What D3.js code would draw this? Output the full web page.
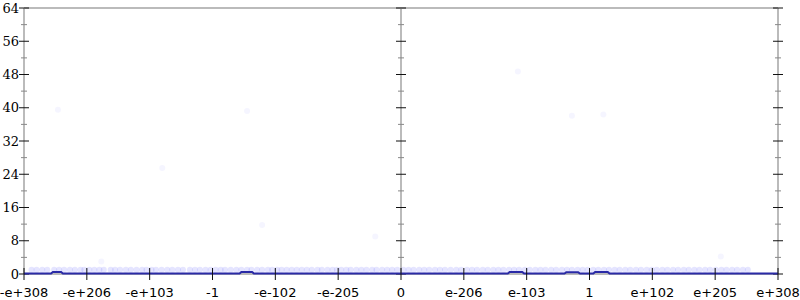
<!DOCTYPE html>
<html>
<head>
<meta charset="utf-8">
<script src="https://cdn.jsdelivr.net/npm/d3@7"></script>
<style>
  body { margin: 0; background: #fff; }
  svg { display: block; }
</style>
</head>
<body>
<div id="chart"></div>
<script>
// x positions are in "tick units": the axis runs over the bit pattern of doubles, -6..6
var tickPos = [-6, -5, -4, -3, -2, -1, 0, 1, 2, 3, 4, 5, 6];
var tickLabels = ["-e+308", "-e+206", "-e+103", "-1", "-e-102", "-e-205", "0",
                  "e-206", "e-103", "1", "e+102", "e+205", "e+308"];
var yMajor = [0, 8, 16, 24, 32, 40, 48, 56, 64];
var yMinor = [4, 12, 20, 28, 36, 44, 52, 60];

// samples with error of 1
var onesX = [
  -5.88, -5.80, -5.71, -5.63, -5.52, -5.44, -5.36, -5.27, -5.19, -5.10, -5.04,
  -4.96, -4.88, -4.80, -4.73, -4.62, -4.55, -4.47, -4.38, -4.30, -4.21, -4.12, -4.05,
  -3.97, -3.90, -3.81, -3.72, -3.64, -3.55, -3.47, -3.36, -3.28, -3.20, -3.11, -3.03,
  -2.95, -2.87, -2.80, -2.71, -2.62, -2.54, -2.45, -2.38, -2.29, -2.21, -2.12, -2.05,
  -1.97, -1.90, -1.82, -1.74, -1.66, -1.58, -1.50, -1.42, -1.33, -1.26, -1.17, -1.09, -1.02,
  -0.95, -0.87, -0.80, -0.71, -0.63, -0.55, -0.46, -0.39, -0.30, -0.22, -0.14, -0.06,
  0.04, 0.12, 0.20, 0.29, 0.37, 0.45, 0.54, 0.62, 0.70, 0.79, 0.88, 0.96,
  1.05, 1.13, 1.21, 1.30, 1.38, 1.47, 1.55, 1.63, 1.72, 1.80, 1.88, 1.97,
  2.05, 2.14, 2.22, 2.30, 2.39, 2.47, 2.56, 2.64, 2.72, 2.81, 2.89, 2.97,
  3.06, 3.14, 3.23, 3.31, 3.40, 3.48, 3.57, 3.65, 3.74, 3.82, 3.91, 3.99,
  4.07, 4.16, 4.24, 4.33, 4.41, 4.50, 4.58, 4.67, 4.75, 4.84, 4.92,
  5.01, 5.10, 5.18, 5.27, 5.35, 5.44, 5.52
];
var onesY = onesX.map(function () { return 1; });

// rare large errors
var outX = [-5.46, -2.45, -3.80, 1.86, 2.72, 3.22, -2.21, -0.41, -4.77, 5.09];
var outY = [39.5, 39.2, 25.5, 48.7, 38.1, 38.4, 11.8, 9.0, 3.0, 4.2];

// mean error line
var meanX = [-6, -5.57, -5.54, -5.41, -5.38, -2.57, -2.54, -2.37, -2.34,
             1.70, 1.73, 1.93, 1.96, 2.60, 2.63, 2.82, 2.85, 3.06, 3.09, 3.29, 3.32, 6];
var meanY = [0.1, 0.1, 0.5, 0.5, 0.1, 0.1, 0.5, 0.5, 0.1,
             0.1, 0.5, 0.5, 0.1, 0.1, 0.4, 0.4, 0.1, 0.1, 0.5, 0.5, 0.1, 0.1];

function drawChart() {
    var W = 800, H = 300;
    var left = 24, right = 778, top = 8, bottom = 274;

    var x = d3.scaleLinear().domain([-6, 6]).range([left, right]);
    var y = d3.scaleLinear().domain([0, 64]).range([bottom, top]);

    var svg = d3.select("#chart").append("svg")
        .attr("width", W)
        .attr("height", H);

    // frame lines
    svg.append("line")
        .attr("x1", left).attr("x2", right)
        .attr("y1", top).attr("y2", top)
        .attr("stroke", "#bbb").attr("stroke-width", 2);
    svg.append("line")
        .attr("x1", left).attr("x2", right)
        .attr("y1", bottom).attr("y2", bottom)
        .attr("stroke", "#bbb").attr("stroke-width", 2);

    // vertical axes: left (labelled), middle and right
    [x(-6), x(0), x(6)].forEach(function (ax, i) {
        var g = svg.append("g");
        g.append("line")
            .attr("x1", ax).attr("x2", ax)
            .attr("y1", top).attr("y2", bottom)
            .attr("stroke", "#bbb").attr("stroke-width", 2);
        g.selectAll(".minor").data(yMinor).enter().append("line")
            .attr("x1", ax - 3).attr("x2", ax + 3)
            .attr("y1", function (d) { return y(d); })
            .attr("y2", function (d) { return y(d); })
            .attr("stroke", "#888").attr("stroke-width", 1);
        g.selectAll(".major").data(yMajor).enter().append("line")
            .attr("x1", ax - 5).attr("x2", ax + 5)
            .attr("y1", function (d) { return y(d); })
            .attr("y2", function (d) { return y(d); })
            .attr("stroke", "#111").attr("stroke-width", 1);
        if (i === 0) {
            g.selectAll("text").data(yMajor).enter().append("text")
                .attr("x", ax - 5)
                .attr("y", function (d) { return y(d); })
                .attr("dy", "0.35em")
                .attr("text-anchor", "end")
                .style("font-family", "DejaVu Serif")
                .style("font-size", "13px")
                .text(function (d) { return d; });
        }
    });

    // data: samples near 1 ulp
    svg.append("g").selectAll("circle")
        .data(onesX.map(function (d, i) { return [d, onesY[i]]; }))
        .enter().append("circle")
        .attr("cx", function (d) { return x(d[0]); })
        .attr("cy", function (d) { return y(d[1]); })
        .attr("r", 3)
        .attr("fill", "#3333ff")
        .attr("fill-opacity", 0.13);

    // rare outliers, barely visible
    svg.append("g").selectAll("circle")
        .data(outX.map(function (d, i) { return [d, outY[i]]; }))
        .enter().append("circle")
        .attr("cx", function (d) { return x(d[0]); })
        .attr("cy", function (d) { return y(d[1]); })
        .attr("r", 3)
        .attr("fill", "#3333ff")
        .attr("fill-opacity", 0.05);

    // mean line
    var line = d3.line()
        .x(function (d) { return x(d[0]); })
        .y(function (d) { return y(d[1]); });
    svg.append("path")
        .datum(meanX.map(function (d, i) { return [d, meanY[i]]; }))
        .attr("d", line)
        .attr("fill", "none")
        .attr("stroke", "#2a2aa6")
        .attr("stroke-width", 2);

    // x axis ticks + labels
    var xa = svg.append("g");
    xa.selectAll("line").data(tickPos).enter().append("line")
        .attr("x1", function (d) { return x(d); })
        .attr("x2", function (d) { return x(d); })
        .attr("y1", bottom - 6).attr("y2", bottom + 6)
        .attr("stroke", "#111").attr("stroke-width", 1);
    xa.selectAll("text").data(tickPos).enter().append("text")
        .attr("x", function (d) { return x(d); })
        .attr("y", 297)
        .attr("text-anchor", "middle")
        .style("font-family", "DejaVu Sans")
        .style("font-size", "13px")
        .text(function (d, i) { return tickLabels[i]; });
}

document.addEventListener("DOMContentLoaded", drawChart);
</script>
</body>
</html>
